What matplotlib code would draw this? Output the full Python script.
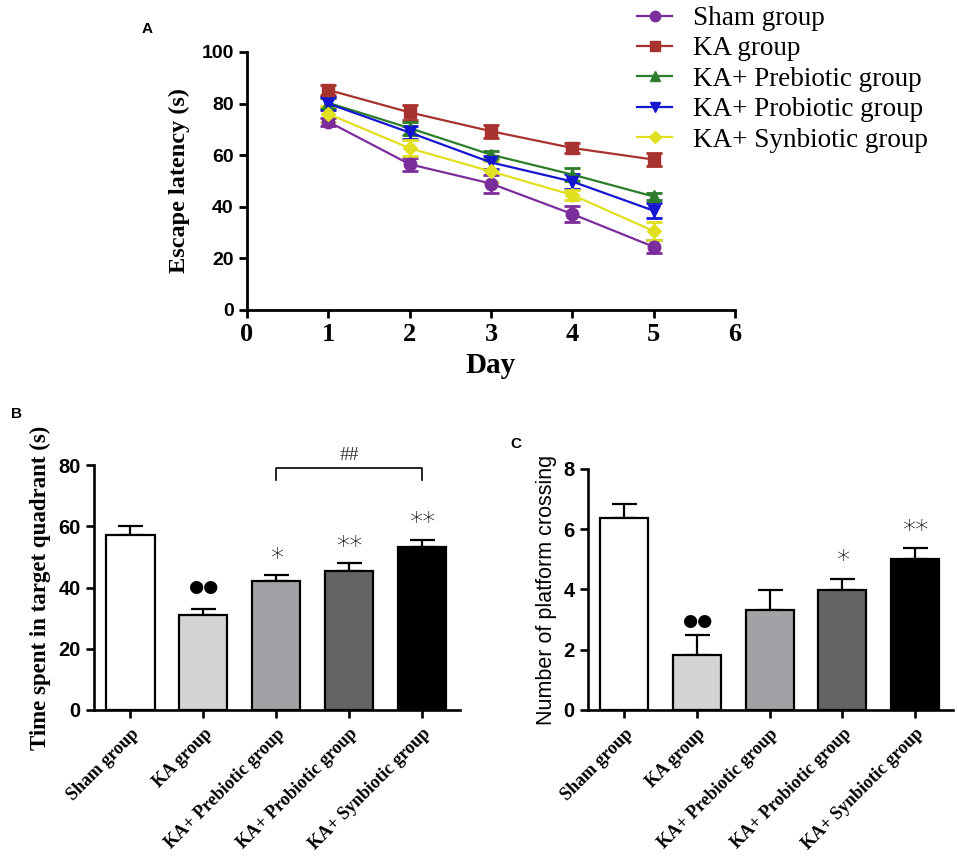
import matplotlib
matplotlib.use("Agg")
import matplotlib.pyplot as plt
from matplotlib.lines import Line2D
import numpy as np

# ---------------- data ----------------
days = [1, 2, 3, 4, 5]
groups = ["Sham group", "KA group", "KA+ Prebiotic group", "KA+ Probiotic group", "KA+ Synbiotic group"]

sham_lat = [73, 56.5, 49, 37.2, 24.5]
ka_lat = [85.3, 76.6, 69.3, 62.8, 58.3]
pre_lat = [80.3, 70.5, 60.2, 52.5, 44.0]
pro_lat = [80.0, 68.8, 57.2, 49.8, 38.5]
syn_lat = [76.0, 62.7, 53.7, 44.6, 30.6]

sham_err = [1.5, 2.5, 3.5, 3.0, 2.5]
ka_err = [2.0, 3.0, 2.5, 2.0, 2.5]
pre_err = [2.0, 2.5, 1.5, 2.5, 1.5]
pro_err = [2.5, 2.5, 2.5, 3.0, 3.0]
syn_err = [3.0, 3.0, 4.0, 2.0, 3.5]

time_target = [57.1, 30.9, 42.1, 45.5, 53.3]
time_err = [3.0, 2.2, 1.9, 2.4, 2.3]
time_marks = ["", "●●", "*", "**", "**"]

crossings = [6.36, 1.83, 3.32, 3.98, 5.01]
cross_err = [0.48, 0.65, 0.66, 0.38, 0.36]
cross_marks = ["", "●●", "", "*", "**"]

line_colors = ["#7b2d9b", "#a8322d", "#2d7d2d", "#1616d0", "#e0e020"]
markers = ["o", "s", "^", "v", "D"]
bar_colors = ["#ffffff", "#d4d4d4", "#a2a2a6", "#646464", "#000000"]

SERIF = "Liberation Serif"
SANS = "Liberation Sans"

fig = plt.figure(figsize=(9.57, 8.58), dpi=100)

# ---------------- Panel A ----------------
axA = fig.add_axes([0.258, 0.6387, 0.510, 0.3007])
series = [sham_lat, ka_lat, pre_lat, pro_lat, syn_lat]
errs = [sham_err, ka_err, pre_err, pro_err, syn_err]
handles = []
for name, vals, e, c, m in zip(groups, series, errs, line_colors, markers):
    ms = 9 if m != "D" else 7.5
    axA.errorbar(days, vals, yerr=e, color=c, marker=m, markersize=ms,
                 linewidth=1.6, capsize=6, capthick=2, elinewidth=2, label=name)
    handles.append(Line2D([], [], color=c, marker=m, markersize=ms - 1.5, linewidth=1.6))
axA.set_xlim(0, 6)
axA.set_ylim(0, 100)
axA.set_xticks(range(0, 7))
axA.set_yticks(range(0, 101, 20))
for s in ["top", "right"]:
    axA.spines[s].set_visible(False)
for s in ["left", "bottom"]:
    axA.spines[s].set_linewidth(2)
axA.tick_params(direction="out", width=2, length=6)
for lab in axA.get_xticklabels():
    lab.set_fontfamily(SERIF); lab.set_fontweight("bold"); lab.set_fontsize(19)
for lab in axA.get_yticklabels():
    lab.set_fontfamily(SANS); lab.set_fontweight("bold"); lab.set_fontsize(14)
axA.set_xlabel("Day", fontfamily=SERIF, fontweight="bold", fontsize=21, labelpad=4)
axA.set_ylabel("Escape latency (s)", fontfamily=SERIF, fontweight="bold", fontsize=17.5, labelpad=8)
leg = fig.legend(handles=handles, labels=groups, loc="upper left",
                 bbox_to_anchor=(0.6656, 0.993), frameon=False, borderpad=0, borderaxespad=0,
                 prop={"family": SERIF, "size": 19.5}, handlelength=1.3,
                 labelspacing=0.2, handletextpad=0.75)
fig.text(0.148, 0.962, "A", fontfamily=SANS, fontweight="bold", fontsize=11)


# ---------------- bar panels ----------------
def bar_panel(ax, vals, err, ylim, yticks, ylabel, ylabel_font, ylabel_weight, ylabel_size):
    x = np.arange(len(vals))
    ax.bar(x, vals, width=0.66, color=bar_colors, edgecolor="black", linewidth=1.6, zorder=2)
    ax.errorbar(x, vals, yerr=[np.zeros(len(err)), err], fmt="none", ecolor="black",
                elinewidth=1.6, capsize=9, capthick=1.6, zorder=1)
    ax.set_xlim(-0.5, 4.52)
    ax.set_ylim(*ylim)
    ax.set_yticks(yticks)
    ax.set_xticks(x)
    ax.set_xticklabels(groups, rotation=45, ha="right", rotation_mode="anchor",
                       fontfamily=SERIF, fontweight="bold", fontsize=13)
    for s in ["top", "right"]:
        ax.spines[s].set_visible(False)
    for s in ["left", "bottom"]:
        ax.spines[s].set_linewidth(1.9)
    ax.tick_params(direction="out", width=1.9, length=6)
    ax.tick_params(axis="x", pad=5)
    for lab in ax.get_yticklabels():
        lab.set_fontfamily(SANS); lab.set_fontweight("bold"); lab.set_fontsize(14.5)
    ax.set_ylabel(ylabel, fontfamily=ylabel_font, fontweight=ylabel_weight, fontsize=ylabel_size, labelpad=5)
    return x


axB = fig.add_axes([0.0982, 0.1725, 0.3825, 0.2855])
xb = bar_panel(axB, time_target, time_err, (0, 80), range(0, 81, 20),
               "Time spent in target quadrant (s)", SERIF, "bold", 16.5)
for xi, v, e, mk in zip(xb, time_target, time_err, time_marks):
    if mk == "●●":
        axB.text(xi, v + e + 4.0, mk, ha="center", va="bottom", fontsize=12.5, fontfamily="DejaVu Sans")
    elif mk:
        axB.text(xi, v + e + 1.2, mk, ha="center", va="bottom", fontsize=19, fontfamily="DejaVu Sans",
                 fontweight="light")
# bracket between prebiotic and synbiotic
axB.plot([2, 2, 4, 4], [75, 79, 79, 75], color="black", linewidth=1.2, clip_on=False)
axB.text(3, 80.5, "##", ha="center", va="bottom", fontsize=14, fontfamily=SERIF, color="#333333")
fig.text(0.012, 0.513, "B", fontfamily=SANS, fontweight="bold", fontsize=11)

axC = fig.add_axes([0.6144, 0.1725, 0.3814, 0.2809])
xc = bar_panel(axC, crossings, cross_err, (0, 8), range(0, 9, 2),
               "Number of platform crossing", SANS, "normal", 15.5)
for xi, v, e, mk in zip(xc, crossings, cross_err, cross_marks):
    if mk == "●●":
        axC.text(xi, v + e + 0.17, mk, ha="center", va="bottom", fontsize=12.5, fontfamily="DejaVu Sans")
    elif mk:
        axC.text(xi, v + e + 0.14, mk, ha="center", va="bottom", fontsize=19, fontfamily="DejaVu Sans",
                 fontweight="light")
fig.text(0.533, 0.478, "C", fontfamily=SANS, fontweight="bold", fontsize=11)

fig.savefig("out.png", dpi=100)
